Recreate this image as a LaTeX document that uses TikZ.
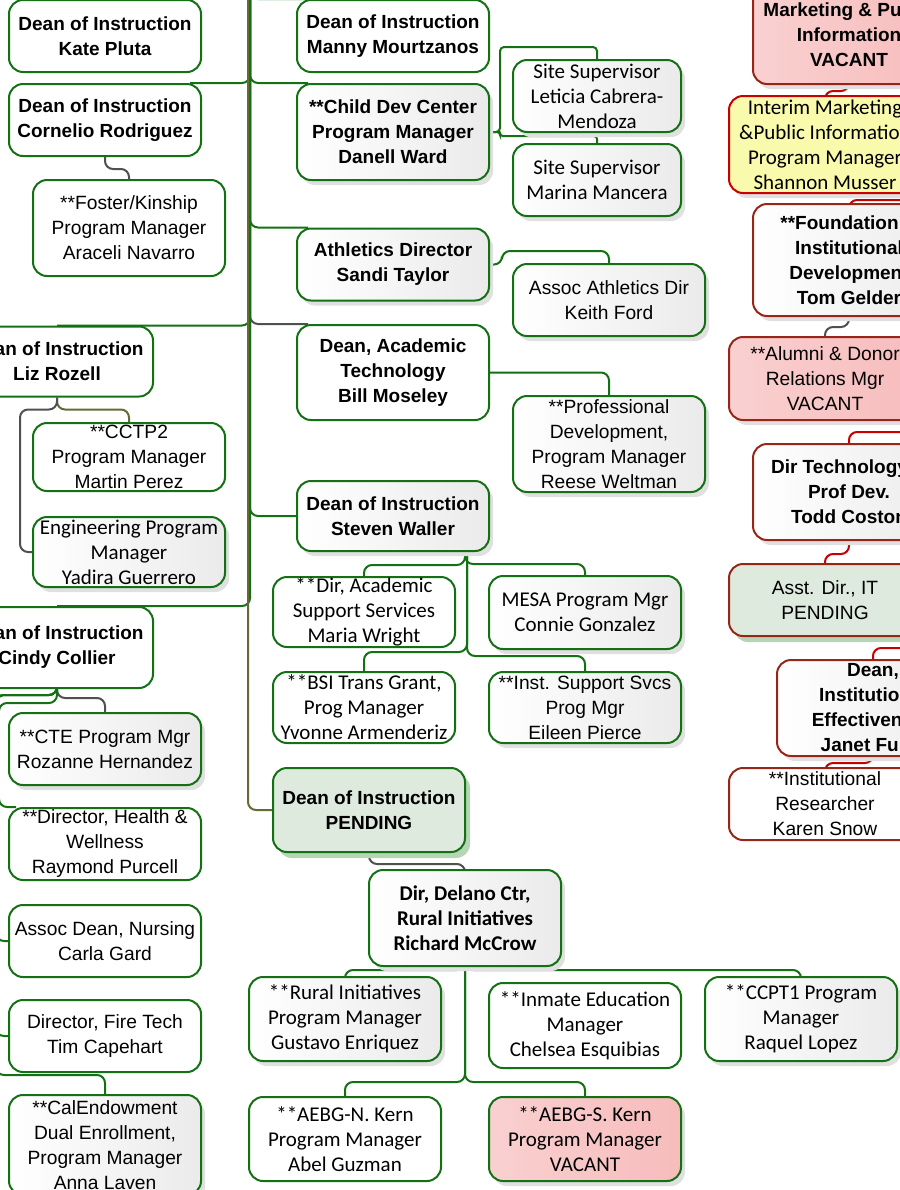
\documentclass[tikz,border=0pt]{standalone}
\usepackage{fontspec}
\setmainfont{Liberation Sans}
\newfontfamily\calibri{Carlito}
\usetikzlibrary{shadows,backgrounds}

\definecolor{boxgreen}{RGB}{20,112,20}
\definecolor{boxred}{RGB}{150,38,24}
\definecolor{brightred}{RGB}{200,0,0}
\definecolor{linegray}{RGB}{80,80,80}
\definecolor{lineolive}{RGB}{105,105,55}
\definecolor{vacantpink}{RGB}{247,188,188}
\definecolor{interimyellow}{RGB}{250,250,172}
\definecolor{pendinggreen}{RGB}{221,234,221}
\definecolor{pendingshadow}{RGB}{182,212,182}

\begin{document}
\begin{tikzpicture}[x=0.5pt,y=-0.5pt]
	\tikzstyle{Box}   = [rectangle, rounded corners=7pt, draw=boxgreen, line width=1pt, fill=white, align=center, inner sep=0pt, minimum width=96pt, minimum height=36pt, font=\fontsize{9.6}{12.5}\selectfont]
	\tikzstyle{Head}  = [Box, font=\fontsize{9.5}{12.5}\selectfont\bfseries]
	\tikzstyle{Cal}   = [Box, font=\fontsize{10.5}{12.5}\selectfont\calibri]
	\tikzstyle{Shade} = [left color=white, right color=black!8, drop shadow={shadow xshift=2pt, shadow yshift=-2.5pt, fill=black!12, opacity=1}]
	\tikzstyle{Vacant}= [left color=vacantpink!70, right color=vacantpink, drop shadow={shadow xshift=2pt, shadow yshift=-2.5pt, fill=black!12, opacity=1}]
	\tikzstyle{Pend}  = [fill=pendinggreen, drop shadow={shadow xshift=2.5pt, shadow yshift=-3pt, fill=pendingshadow, opacity=1}]
	\tikzstyle{RedBox}= [draw=boxred]
	\tikzstyle{Link}  = [line width=1pt, rounded corners=4pt, boxgreen]
	\tikzstyle{GrayLink}  = [Link, linegray]
	\tikzstyle{OliveLink} = [Link, lineolive]
	\tikzstyle{RedLink}   = [Link, brightred]

	\useasboundingbox (0,0) rectangle (900,1190);

	% left column
	\node[Head] (kate) at (105,36) {Dean of Instruction\\Kate Pluta};
	\node[Head] (cornelio) at (105,120) {Dean of Instruction\\Cornelio Rodriguez};
	\node[Box, minimum height=48pt] (foster) at (129,228) {**Foster/Kinship\\Program Manager\\Araceli Navarro};
	\node[Head, minimum height=35pt] (liz) at (57,361.5) {Dean of Instruction\\Liz Rozell};
	\node[Box, minimum height=34pt] (cctp) at (129,457) {**CCTP2\\Program Manager\\Martin Perez};
	\node[Cal, Shade, minimum height=35pt] (engineering) at (129,552) {Engineering Program\\Manager\\Yadira Guerrero};
	\node[Head, minimum height=40.5pt] (cindy) at (57,647.5) {Dean of Instruction\\Cindy Collier};
	\node[Box, Shade] (cte) at (105,749) {**CTE Program Mgr\\Rozanne Hernandez};
	\node[Box] (health) at (105,844) {**Director, Health \&\\Wellness\\Raymond Purcell};
	\node[Box] (nursing) at (105,941) {Assoc Dean, Nursing\\Carla Gard};
	\node[Box] (firetech) at (105,1036) {Director, Fire Tech\\Tim Capehart};
	\node[Box, Shade, minimum height=50pt] (calendow) at (105,1145) {**CalEndowment\\Dual Enrollment,\\Program Manager\\Anna Laven};

	% middle column
	\node[Head] (manny) at (393,36) {Dean of Instruction\\Manny Mourtzanos};
	\node[Head, Shade, minimum height=48pt] (childdev) at (393,132) {**Child Dev Center\\Program Manager\\Danell Ward};
	\node[Cal, Shade, minimum width=84pt] (site1) at (597,96) {Site Supervisor\\Leticia Cabrera-\\Mendoza};
	\node[Cal, Shade, minimum width=84pt] (site2) at (597,180) {Site Supervisor\\Marina Mancera};
	\node[Head, Shade] (athletics) at (393,264.5) {Athletics Director\\Sandi Taylor};
	\node[Box, Shade] (assocath) at (609,300) {Assoc Athletics Dir\\Keith Ford};
	\node[Head, minimum height=47.5pt] (acadtech) at (393,372.5) {Dean, Academic\\Technology\\Bill Moseley};
	\node[Box, Shade, minimum height=48pt] (profdev) at (609,444) {**Professional\\Development,\\Program Manager\\Reese Weltman};
	\node[Head, Shade, minimum height=35pt] (waller) at (393,516) {Dean of Instruction\\Steven Waller};
	\node[Cal, minimum width=91pt, minimum height=35pt] (maria) at (364,612) {**Dir, Academic\\Support Services\\Maria Wright};
	\node[Cal, Shade, minimum height=36.5pt] (mesa) at (585,612.5) {MESA Program Mgr\\Connie Gonzalez};
	\node[Cal, minimum width=91pt, minimum height=35.5pt] (bsi) at (364,707.5) {**BSI Trans Grant,\\Prog Manager\\Yvonne Armenderiz};
	\node[Box, Shade, minimum height=35.5pt] (instsupp) at (585,707.5) {**Inst. Support Svcs\\Prog Mgr\\Eileen Pierce};
	\node[Head, Pend, minimum height=42pt] (pending) at (369,810) {Dean of Instruction\\PENDING};
	\node[Cal, Shade, font=\fontsize{10.5}{12.5}\selectfont\calibri\bfseries, minimum height=48pt] (delano) at (465,918) {Dir, Delano Ctr,\\Rural Initiatives\\Richard McCrow};
	\node[Cal, Shade, minimum height=42pt] (rural) at (345,1019) {**Rural Initiatives\\Program Manager\\Gustavo Enriquez};
	\node[Cal, minimum height=42.5pt] (inmate) at (585,1025.5) {**Inmate Education\\Manager\\Chelsea Esquibias};
	\node[Cal, Shade, minimum height=42pt] (ccpt) at (801,1019) {**CCPT1 Program\\Manager\\Raquel Lopez};
	\node[Cal, minimum height=42pt] (aebgn) at (345,1139) {**AEBG-N. Kern\\Program Manager\\Abel Guzman};
	\node[Cal, Vacant, minimum height=42pt] (aebgs) at (585,1139) {**AEBG-S. Kern\\Program Manager\\VACANT};

	% right column
	\node[Head, RedBox, Vacant, minimum height=49pt] (marketing) at (849,35) {Marketing \& Public\\Information\\VACANT};
	\node[Cal, draw=brightred, fill=interimyellow, drop shadow={shadow xshift=2pt, shadow yshift=-2.5pt, fill=black!12, opacity=1}, minimum height=48.5pt] (interim) at (825,144.5) {Interim Marketing\\\&Public Information\\Program Manager\\Shannon Musser};
	\node[Head, RedBox, Shade, minimum height=56pt] (foundation) at (849,260) {**Foundation \&\\Institutional\\Development\\Tom Gelder};
	\node[Box, RedBox, Vacant, minimum height=41.5pt] (alumni) at (825,378.5) {**Alumni \& Donor\\Relations Mgr\\VACANT};
	\node[Head, RedBox, Shade, minimum height=48pt] (todd) at (849,492) {Dir Technology \&\\Prof Dev.\\Todd Coston};
	\node[Box, RedBox, Pend] (asstit) at (825,600) {Asst. Dir., IT\\PENDING};
	\node[Head, RedBox, Shade, minimum height=48pt] (janet) at (873,708) {Dean,\\Institutional\\Effectiveness\\Janet Fulks};
	\node[Box, RedBox] (karen) at (825,804) {**Institutional\\Researcher\\Karen Snow};

	\coordinate (trunk) at (250,-20);
	\coordinate (lefttrunk) at (-4,695);
	\coordinate (lefttrunkb) at (-1,703);
	\coordinate (fromright1) at (960,200);
	\coordinate (fromright2) at (960,432);
	\coordinate (fromright3) at (960,648);

	\begin{scope}[on background layer]
		\draw[GrayLink] (trunk) |- ([xshift=6pt]acadtech.north west);
		\draw[Link] (trunk) |- ([xshift=6pt]manny.north west);
		\draw[Link] (trunk) |- ([xshift=6pt]childdev.north west);
		\draw[Link] (trunk) |- ([xshift=6pt]athletics.north west);
		\draw[Link] (trunk) |- (waller.west);
		\draw[Link] (trunk) |- ([xshift=-6pt]cornelio.north east);
		\draw[Link] (trunk) |- (liz.north);
		\draw[Link] (trunk) |- (cindy.north);
		\draw[OliveLink] ([xshift=-1pt]trunk) |- (pending.west);

		\draw[GrayLink] (cornelio.south) -- ++(0,12) -| (foster.north);
		\draw[OliveLink] (liz.south) -- ++(0,12) -| (cctp.north);
		\draw[GrayLink] (liz.south) -- ++(0,12) -| ([xshift=-6pt]engineering.west) -- (engineering.west);

		\draw[GrayLink] (cindy.south) -- ++(0,9) -| (cte.north);
		\draw[Link] (cindy.south) |- (lefttrunkb) |- ([xshift=4pt]health.north west);
		\draw[Link] (cindy.south) |- (lefttrunk) |- (nursing.west);
		\draw[Link] (cindy.south) |- (lefttrunk) |- (firetech.west);
		\draw[Link] (cindy.south) |- (lefttrunk) |- ([yshift=9.5pt]calendow.north) -- (calendow.north);

		\draw[Link, rounded corners=2pt] (childdev.east) -- ++(10,0) |- ([yshift=6pt]site1.north) -- (site1.north);
		\draw[Link, rounded corners=1.5pt] (childdev.east) -- ++(10,0) |- ([yshift=3.5pt]site2.north) -- (site2.north);
		\draw[Link] (athletics.east) -- ++(12,0) |- ([yshift=6pt]assocath.north) -- (assocath.north);
		\draw[Link] (acadtech.east) -| (profdev.north);

		\draw[Link] ([xshift=36pt]waller.south) |- ([yshift=5.5pt]mesa.north) -- (mesa.north);
		\draw[Link] ([xshift=36pt]waller.south) |- ([yshift=5.5pt]maria.north) -- (maria.north);
		\draw[Link] ([xshift=37pt]waller.south) |- ([yshift=9.5pt]bsi.north) -- (bsi.north);
		\draw[Link] ([xshift=37pt]waller.south) |- ([yshift=7.5pt]instsupp.north) -- (instsupp.north);

		\draw[GrayLink] (pending.south) -- ++(0,11) -| (delano.north);
		\draw[Link] (delano.south) |- ([yshift=3pt]rural.north) -- (rural.north);
		\draw[Link] (delano.south) |- ([yshift=3pt]ccpt.north) -- (ccpt.north);
		\draw[Link] (delano.south) |- ([yshift=7pt]aebgn.north) -- (aebgn.north);
		\draw[Link] (delano.south) |- ([yshift=7pt]aebgs.north) -- (aebgs.north);

		\draw[RedLink] (marketing.south) -- ++(0,6) -| (interim.north);
		\draw[RedLink] (fromright1) -| (foundation.north);
		\draw[GrayLink] (foundation.south) -- ++(0,10) -| (alumni.north);
		\draw[RedLink] (fromright2) -| (todd.north);
		\draw[RedLink] (todd.south) -- ++(0,13) -| (asstit.north);
		\draw[RedLink] (fromright3) -| (janet.north);
		\draw[RedLink] (janet.south) -- ++(0,6) -| (karen.north);
	\end{scope}
\end{tikzpicture}
\end{document}
